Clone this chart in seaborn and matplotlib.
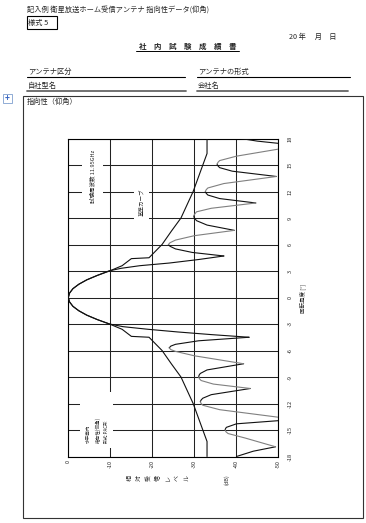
import matplotlib
matplotlib.use("Agg")
import matplotlib.pyplot as plt
import seaborn as sns
import pandas as pd
from matplotlib.patches import Rectangle
from matplotlib.lines import Line2D

# tema
sns.set_theme(style="white")
plt.rcParams["font.family"] = ["Noto Sans CJK JP", "DejaVu Sans"]

W, H = 366, 523

# ---------------------------------------------------------------
# dados (ângulo em graus, nível relativo em dB)
# ---------------------------------------------------------------
# padrão medido, lado superior (0° -> +18°)
ang_up = [0, 0.5, 1.0, 1.5, 2.0, 2.5, 3.0, 3.3, 3.6, 3.9, 4.3, 4.7,
          5.1, 5.5, 5.8, 6.0, 6.2, 6.5, 7.0, 7.6,
          8.2, 8.7, 9.0, 9.2, 9.4, 9.7, 10.1, 10.7,
          11.2, 11.6, 11.8, 12.0, 12.2, 12.4, 12.9, 13.7,
          14.3, 14.7, 14.9, 15.1, 15.3, 15.5, 16.0, 17.2,
          17.7, 18.0]
db_up = [0, -0.3, -1.1, -2.5, -4.4, -6.9, -9.6, -12.5, -17, -24, -31, -37,
         -29.5, -25.5, -24.2, -23.8, -24.2, -25.5, -30, -39.5,
         -33, -30.5, -30.0, -29.8, -30.0, -30.5, -34, -44.6,
         -36, -33.2, -32.8, -32.6, -32.8, -33.2, -37, -49.5,
         -39, -36, -35.6, -35.4, -35.6, -36, -40, -55,
         -45, -41]

# padrão medido, lado inferior (0° -> -18°)
ang_lo = [0, -0.5, -1.0, -1.5, -2.0, -2.5, -3.0, -3.3, -3.6, -3.9, -4.2, -4.5,
          -4.9, -5.3, -5.5, -5.7, -5.9, -6.1, -6.6, -7.5,
          -8.2, -8.6, -8.8, -9.0, -9.2, -9.4, -9.8, -10.3,
          -11.0, -11.4, -11.6, -11.8, -12.0, -12.2, -12.7, -13.8,
          -14.3, -14.7, -14.85, -15.0, -15.2, -15.4, -15.9, -16.9,
          -17.4, -18.0]
db_lo = [0, -0.3, -1.1, -2.5, -4.4, -6.9, -9.8, -13, -19, -26, -34, -43,
         -31, -25.5, -24.4, -24, -24.4, -25.5, -30, -41.7,
         -33, -31.4, -31.1, -31, -31.2, -31.6, -34.5, -43.3,
         -34, -32, -31.6, -31.4, -31.6, -32, -36, -54,
         -40, -37.6, -37.4, -37.3, -37.5, -38, -42, -49.3,
         -44, -40]

# curva de referência (基準カーブ), simétrica
ref_ang = [0, 0.5, 1.0, 1.5, 2.0, 2.5, 3.0, 3.6, 4.4, 4.5, 6.0, 7.5, 9.0, 12.0, 15.0, 16.3, 18.0]
ref_db = [0, -0.3, -1.1, -2.5, -4.4, -6.9, -9.8, -12.8, -15.0, -19.2, -22.3, -24.5, -26.8, -29.7, -32.0, -33.0, -33.0]

# eixos
db_ticks = [0, -10, -20, -30, -40, -50]
db_labels = ["0", "-10", "-20", "-30", "-40", "-50"]
ang_ticks = [18, 15, 12, 9, 6, 3, 0, -3, -6, -9, -12, -15, -18]
ang_labels = ["18", "15", "12", "9", "6", "3", "0", "-3", "-6", "-9", "-12", "-15", "-18"]


def fx(x):
    return x / W


def fy(y):
    return 1 - y / H


# separar o padrão em trechos (subida / descida) para a cor
def segmentos(angs, dbs, base_id):
    rows = []
    seg = base_id
    prev_dir = None
    for i in range(1, len(angs)):
        d = "sobe" if dbs[i] > dbs[i - 1] else "desce"
        if d != prev_dir:
            seg += 1
            rows.append((seg, angs[i - 1], dbs[i - 1], d))
            prev_dir = d
        rows.append((seg, angs[i], dbs[i], d))
    return rows, seg


rows_up, last = segmentos(ang_up, db_up, 0)
rows_lo, last = segmentos(ang_lo, db_lo, last + 10)
df = pd.DataFrame(rows_up + rows_lo, columns=["seg", "ang", "db", "dir"])
first_segs = {rows_up[0][0], rows_lo[0][0]}
df["tom"] = ["preto" if (d == "sobe" or s in first_segs) else "cinza"
             for s, d in zip(df["seg"], df["dir"])]

ref = pd.DataFrame({
    "ang": [-a for a in ref_ang[::-1]] + ref_ang[1:],
    "db": ref_db[::-1] + ref_db[1:],
})

# ---------------------------------------------------------------
# figura
# ---------------------------------------------------------------
fig = plt.figure(figsize=(W / 100, H / 100), dpi=100)
fig.patch.set_facecolor("white")

# cabeçalho
fig.text(fx(27), fy(10), "記入例 衛星放送ホーム受信アンテナ 指向性データ(仰角)", fontsize=5.2, va="center")
fig.text(fx(28), fy(22.5), "様式 5", fontsize=5.2, va="center")
fig.add_artist(Rectangle((fx(27), fy(28.5)), 30 / W, 12 / H, fill=False, lw=0.8,
                         ec="black", transform=fig.transFigure))
fig.text(fx(289), fy(37), "20 年　 月　日", fontsize=5.2, va="center")
fig.text(fx(187.5), fy(46.5), "社　内　試　験　成　績　書", fontsize=5.4, va="center", ha="center",
         fontweight="bold")
fig.add_artist(Line2D([fx(136), fx(239)], [fy(51), fy(51)], lw=0.7, color="black",
                      transform=fig.transFigure))

campos = [("アンテナ区分", 27, 185, 76.5, "black", 0.8),
          ("アンテナの形式", 197, 350, 76.5, "black", 0.8),
          ("自社型名", 27, 186, 90.5, "#666666", 1.3),
          ("会社名", 197, 348, 90.5, "#666666", 1.3)]
for txt, x0, x1, yl, c, lw in campos:
    fig.text(fx(x0 + 1), fy(yl - 1), txt, fontsize=5.2, va="bottom")
    fig.add_artist(Line2D([fx(x0), fx(x1)], [fy(yl), fy(yl)], lw=lw, color=c,
                          transform=fig.transFigure))

# alça de mover tabela
fig.add_artist(Rectangle((fx(3), fy(103)), 9 / W, 9 / H, fill=False, lw=0.6,
                         ec="#7f9fcf", transform=fig.transFigure))
fig.text(fx(7.5), fy(98.5), "+", fontsize=6, color="#3060c0", ha="center", va="center",
         fontweight="bold")

# moldura grande
fig.add_artist(Rectangle((fx(23), fy(518)), 340 / W, 422 / H, fill=False, lw=0.8,
                         ec="#333333", transform=fig.transFigure))
fig.text(fx(27), fy(102), "指向性（仰角）", fontsize=5.2, va="center")

# eixo do gráfico
ax = fig.add_axes([fx(68.3), fy(456.5), (278.5 - 68.3) / W, (456.5 - 138.5) / H])
ax.set_facecolor("white")
ax.set_axisbelow(True)
ax.grid(True, color="#222222", lw=0.75)

sns.lineplot(data=df, x="db", y="ang", units="seg", hue="tom",
             palette={"preto": "#111111", "cinza": "#808080"},
             estimator=None, sort=False, legend=False, lw=0.8, ax=ax, zorder=4)
sns.lineplot(data=ref, x="db", y="ang", estimator=None, sort=False,
             color="#111111", lw=0.8, ax=ax, zorder=4)

ax.set_xlim(0, -50)
ax.set_ylim(-18, 18)
ax.set_xticks(db_ticks)
ax.set_xticklabels(db_labels, rotation=90, fontsize=4)
ax.yaxis.tick_right()
ax.set_yticks(ang_ticks)
ax.set_yticklabels(ang_labels, rotation=90, fontsize=4, va="center")
ax.tick_params(axis="x", length=0, pad=2.5)
ax.tick_params(axis="y", length=0, pad=6.5)
ax.set_xlabel("")
ax.set_ylabel("")
for sp in ax.spines.values():
    sp.set_color("black")
    sp.set_linewidth(0.8)

# caixas brancas sob os textos internos (interrompem a grade)
for x0, y0, x1, y1 in [(81.7, 143, 103.3, 210), (134, 185, 149, 221), (80, 392, 113.3, 448)]:
    ax.add_patch(Rectangle((fx(x0), fy(y1)), (x1 - x0) / W, (y1 - y0) / H,
                           transform=fig.transFigure, fc="white", ec="none", zorder=1.5))

fig.text(fx(92.5), fy(176), "試験周波数 11.95GHz", fontsize=4, rotation=90,
         ha="center", va="center")
fig.text(fx(141.7), fy(202), "基準カーブ", fontsize=4, rotation=90,
         ha="center", va="center")
fig.text(fx(97.5), fy(443), "水平面内\n指向性(仰角)\n形式:PAC形", fontsize=3.3, rotation=90,
         ha="center", va="bottom", multialignment="left", linespacing=1.9)

# rótulos dos eixos
fig.text(fx(303), fy(298), "回転角度 [°]", fontsize=4, rotation=90, ha="center", va="center")
for i, ch in enumerate("相対受信レベル"):
    fig.text(fx(130 + i * 9.5), fy(478), ch, fontsize=4.3, rotation=90, ha="center", va="center")
fig.text(fx(227), fy(480), "(dB)", fontsize=4, rotation=90, ha="center", va="center")

fig.savefig("out.png", dpi=100)
